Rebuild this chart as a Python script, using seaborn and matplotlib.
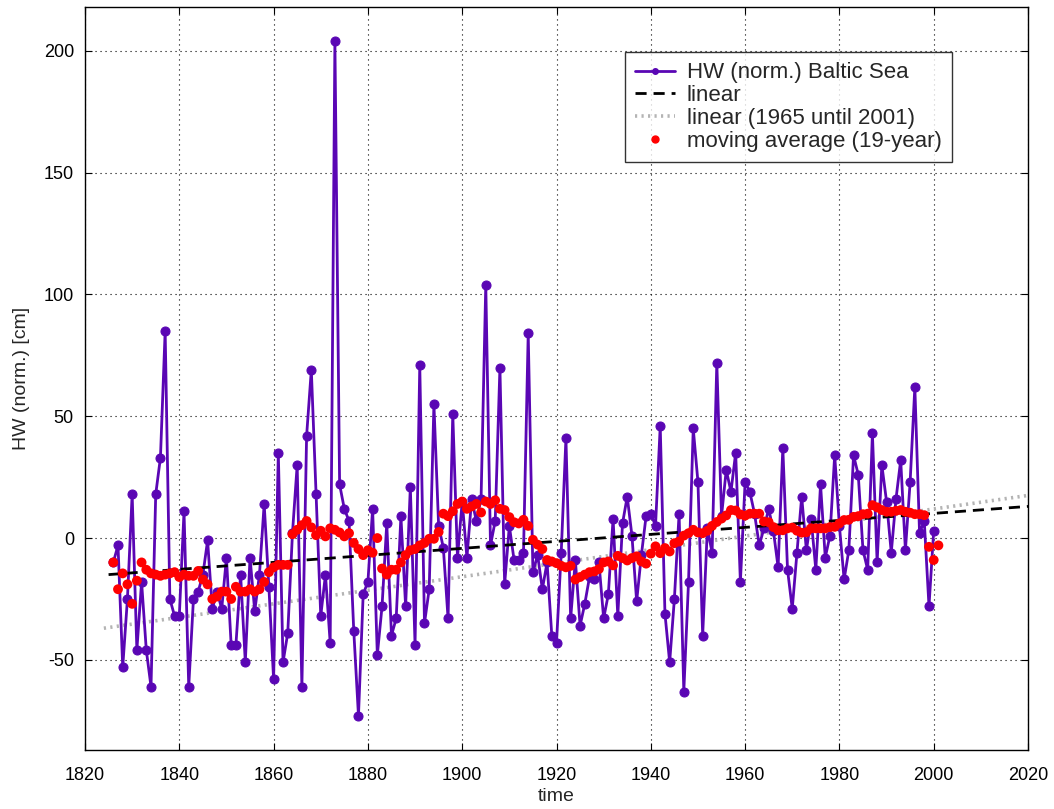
import numpy as np
import pandas as pd
import matplotlib
matplotlib.use("Agg")
import matplotlib.pyplot as plt
from matplotlib.lines import Line2D
import seaborn as sns

# Annual high-water values (normalised), Baltic Sea, 1826-2000
hw_years = list(range(1826, 2001))
hw_values = [
    -10, -3, -53, -25, 18, -46, -18, -46, -61, 18,          # 1826-1835
    33, 85, -25, -32, -32, 11, -61, -25, -22, -15,          # 1836-1845
    -1, -29, -22, -29, -8, -44, -44, -15, -51, -8,          # 1846-1855
    -30, -15, 14, -20, -58, 35, -51, -39, 2, 30,            # 1856-1865
    -61, 42, 69, 18, -32, -15, -43, 204, 22, 12,            # 1866-1875
    7, -38, -73, -23, -18, 12, -48, -28, 6, -40,            # 1876-1885
    -33, 9, -28, 21, -44, 71, -35, -21, 55, 5,              # 1886-1895
    -4, -33, 51, -8, 15, -8, 16, 7, 16, 104,                # 1896-1905
    -3, 7, 70, -19, 5, -9, -9, -6, 84, -14,                 # 1906-1915
    -7, -21, -10, -40, -43, -6, 41, -33, -9, -36,           # 1916-1925
    -27, -16, -17, -10, -33, -23, 8, -32, 6, 17,            # 1926-1935
    1, -26, -7, 9, 10, 5, 46, -31, -51, -25,                # 1936-1945
    10, -63, -18, 45, 23, -40, 4, -6, 72, 9,                # 1946-1955
    28, 19, 35, -18, 23, 19, 10, -3, 4, 12,                 # 1956-1965
    3, -12, 37, -13, -29, -6, 17, -5, 8, -13,               # 1966-1975
    22, -8, 1, 34, 5, -17, -5, 34, 26, -5,                  # 1976-1985
    -13, 43, -10, 30, 15, -6, 16, 32, -5, 23,               # 1986-1995
    62, 2, 7, -28, 3,                                       # 1996-2000
]

# 19-year moving average, 1826-2001
ma_years = list(range(1826, 2002))
ma_values = [
    -10, -21, -14.5, -19, -27, -17.5, -10, -13, -14.5, -15,             # 1826-1835
    -15.5, -15, -14.5, -14, -16, -15, -15.5, -15.5, -13.5, -17,         # 1836-1845
    -19, -25, -24, -22, -22, -25, -20, -22, -22, -21,                   # 1846-1855
    -22, -21, -18, -14, -12, -11, -11, -11, 1.6, 3.4,                   # 1856-1865
    5.3, 7, 4.4, 1.2, 3, 0.7, 4, 3.4, 2.3, 0.7,                         # 1866-1875
    2, -2, -4.5, -7, -5, -6, 0, -12.5, -15, -13,                        # 1876-1885
    -13, -10, -7, -5, -4.5, -3, -2, -0.3, -0.3, 2.5,                    # 1886-1895
    10, 9, 11, 14, 15, 12, 13, 14, 10.5, 15,                            # 1896-1905
    14, 15.5, 12, 11.5, 8.6, 6.5, 6, 7.5, 5, -0.7,                      # 1906-1915
    -2.7, -4.5, -9, -9.6, -10.3, -11.4, -12, -11.4, -17, -16,           # 1916-1925
    -15, -14, -13.7, -12.7, -10, -9.6, -11.2, -7.3, -8.2, -9.2,         # 1926-1935
    -8.2, -7.5, -9.6, -10.5, -6.4, -3.4, -6.2, -4.1, -5.5, -2.1,        # 1936-1945
    -1.4, 1, 2, 3.4, 2.3, 2, 3, 5, 6.6, 8,                              # 1946-1955
    9.3, 11.5, 11.3, 9.7, 9.2, 10, 10, 10, 6.8, 6.5,                    # 1956-1965
    4.5, 3.2, 3.2, 4, 4.3, 3, 2.2, 2.4, 4, 4,                           # 1966-1975
    4, 4, 4.5, 4.6, 6, 7.4, 7.5, 8.7, 9, 9.8,                           # 1976-1985
    10, 13.5, 12.6, 11.5, 10.8, 10.8, 11.2, 11.5, 10.8, 10.4,           # 1986-1995
    9.8, 9.8, 9.4, -3.6, -9, -3,                                        # 1996-2001
]

# Linear trends (end points)
lin_years = [1825, 2020]
lin_values = [-15, 13]
lin65_years = [1824, 2020]
lin65_values = [-37, 17.5]

hw_df = pd.DataFrame({"year": hw_years, "hw": hw_values})
ma_df = pd.DataFrame({"year": ma_years, "ma": ma_values})
lin_df = pd.DataFrame({"year": lin_years, "v": lin_values})
lin65_df = pd.DataFrame({"year": lin65_years, "v": lin65_values})

sns.set_style("white")
plt.rcParams["font.family"] = ["Liberation Sans", "DejaVu Sans"]
plt.rcParams["axes.unicode_minus"] = False

PURPLE = "#5a06b4"
RED = "#ff0000"
GRAY = "#b4b4b4"

fig = plt.figure(figsize=(10.54, 8.09), dpi=100)
ax = fig.add_axes([85 / 1054, 1 - 750 / 809, 943 / 1054, 743 / 809])

sns.lineplot(data=lin65_df, x="year", y="v", ax=ax, color=GRAY, linewidth=2.6,
             linestyle=(0, (0.6, 1.2)), zorder=2)
sns.lineplot(data=hw_df, x="year", y="hw", ax=ax, color=PURPLE, linewidth=2.0,
             marker="o", markersize=6.5, markeredgecolor=PURPLE,
             markerfacecolor=PURPLE, zorder=3)
sns.lineplot(data=lin_df, x="year", y="v", ax=ax, color="black", linewidth=2.0,
             linestyle=(0, (4, 2.5)), zorder=4)
sns.scatterplot(data=ma_df, x="year", y="ma", ax=ax, color=RED, s=50,
                edgecolor="none", zorder=5)

ax.set_xlim(1820, 2020)
ax.set_ylim(-87, 218)
ax.set_xticks(np.arange(1820, 2021, 20))
ax.set_yticks([-50, 0, 50, 100, 150, 200])
ax.grid(True, color="black", linestyle=(0, (1, 3.5)), linewidth=0.8)
ax.set_axisbelow(True)
for sp in ax.spines.values():
    sp.set_color("black")
    sp.set_linewidth(1.0)
ax.tick_params(direction="in", length=5, width=0.8, labelsize=13,
               colors="black", top=True, right=True, bottom=True, left=True,
               labeltop=False, labelright=False)
ax.tick_params(axis="x", pad=12)
ax.tick_params(axis="y", pad=8)
ax.set_xlabel("time", fontsize=14, labelpad=3)
ax.set_ylabel("HW (norm.) [cm]", fontsize=14, labelpad=10)

handles = [
    Line2D([], [], color=PURPLE, linewidth=2.0, marker="o", markersize=4),
    Line2D([], [], color="black", linewidth=2.0, linestyle=(0, (4, 2.5))),
    Line2D([], [], color=GRAY, linewidth=2.6, linestyle=(0, (0.6, 1.2))),
    Line2D([], [], color=RED, linestyle="none", marker="o", markersize=5),
]
labels = ["HW (norm.) Baltic Sea", "linear", "linear (1965 until 2001)",
          "moving average (19-year)"]
leg = ax.legend(handles, labels, loc="upper right",
                bbox_to_anchor=(0.919, 0.939), borderaxespad=0,
                frameon=True, fancybox=False, edgecolor="black",
                fontsize=16, handlelength=1.8, handletextpad=0.55,
                labelspacing=0.08, borderpad=0.45)
leg.get_frame().set_linewidth(1.0)

fig.savefig("out.png", dpi=100)
